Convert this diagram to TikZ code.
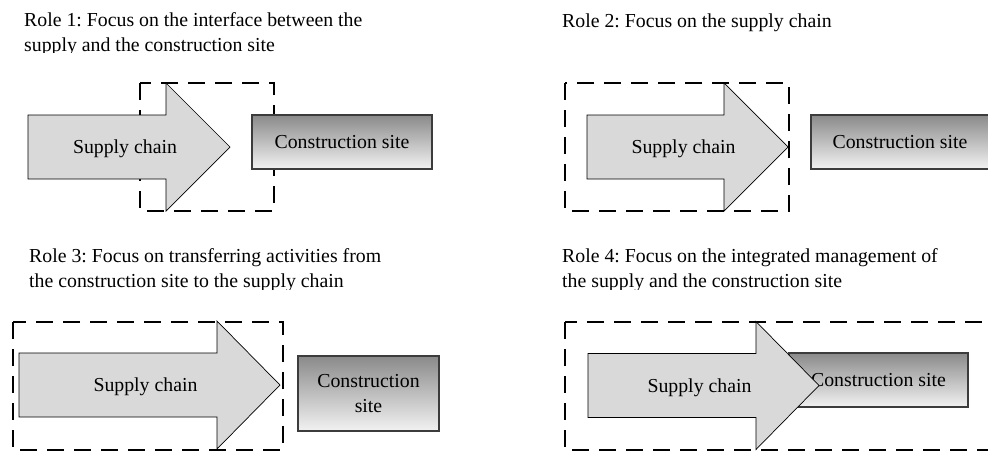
\documentclass[tikz,border=0pt]{standalone}
\usepackage{fontspec}
\setmainfont{Liberation Serif}
\frenchspacing
\definecolor{arrowgray}{HTML}{D9D9D9}
\definecolor{boxedge}{HTML}{3C3C3C}
\definecolor{sitetop}{HTML}{8A8A8A}
\definecolor{sitebottom}{HTML}{F2F2F2}
% Supply-chain block arrow: name, left x, head base x, tip x, middle y
\newcommand\SupplyArrow[5]{%
  \draw[chainshape] (#2,#5-32) -- (#3,#5-32) -- (#3,#5-64) -- (#4,#5)
    -- (#3,#5+64) -- (#3,#5+32) -- (#2,#5+32) -- cycle;
  \node[anchor=base] (#1) at ({(#2+#4)/2-4},#5+6.5) {Supply chain};}
\begin{document}
\begin{tikzpicture}[x=1pt,y=-1pt,
  every node/.style={inner sep=0pt, font=\fontsize{19.8}{25}\selectfont},
  titleline/.style={anchor=base west},
  focusline/.style={draw=black, line width=2.7pt, dash pattern=on 17pt off 10pt},
  chainshape/.style={draw=black, line width=0.7pt, fill=arrowgray},
  sitebox/.style={rectangle, draw=boxedge, line width=1.3pt,
    top color=sitetop, bottom color=sitebottom, align=center}]
\useasboundingbox (0,0) rectangle (988,450);

% ---- Role 1: interface between supply and site
\node[titleline] (t1a) at (24,26) {Role 1: Focus on the interface between the};
\begin{scope}
  \clip (0,30) rectangle (494,52.5);
  \node[titleline] (t1b) at (24,51) {supply and the construction site};
\end{scope}
\draw[focusline] (140,83) rectangle (274,211);
\node[sitebox, minimum width=180pt, minimum height=54pt] (site1) at (342,142) {Construction site};
\SupplyArrow{chain1}{28}{166}{230}{147}

% ---- Role 2: the supply chain
\node[titleline] (t2) at (562,27) {Role 2: Focus on the supply chain};
\draw[focusline] (565,83) rectangle (789,211);
\begin{scope}
  \clip (0,0) rectangle (988,450);
  \node[sitebox, minimum width=178pt, minimum height=54pt] (site2) at (900,142) {Construction site};
\end{scope}
\SupplyArrow{chain2}{587}{724}{788}{147}

% ---- Role 3: moving site activities into the supply chain
\node[titleline] (t3a) at (29,262) {Role 3: Focus on transferring activities from};
\begin{scope}
  \clip (0,266) rectangle (494,289);
  \node[titleline] (t3b) at (29,287.5) {the construction site to the supply chain};
\end{scope}
\draw[focusline] (13,322) rectangle (283,450);
\node[sitebox, minimum width=141pt, minimum height=75pt] (site3) at (368.5,393.5) {Construction\\site};
\SupplyArrow{chain3}{19}{217}{280}{385}

% ---- Role 4: integrated management
\node[titleline] (t4a) at (562,262) {Role 4: Focus on the integrated management of};
\begin{scope}
  \clip (494,266) rectangle (988,289);
  \node[titleline] (t4b) at (562,287.5) {the supply and the construction site};
\end{scope}
\draw[focusline] (565,322) rectangle (1010,450);
\node[sitebox, minimum width=179pt, minimum height=54pt] (site4) at (878.5,380) {Construction site};
\SupplyArrow{chain4}{588}{756}{819}{385.5}
\end{tikzpicture}
\end{document}
